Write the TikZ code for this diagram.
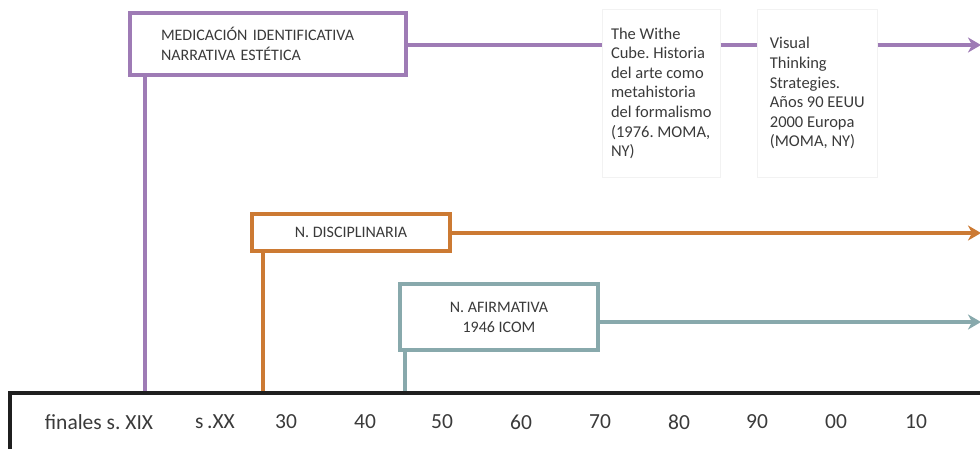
\documentclass[tikz,border=0pt]{standalone}
\usepackage{fontspec}
\setmainfont{Carlito}
\usetikzlibrary{arrows.meta}
\definecolor{lilac}{HTML}{9E7BB5}
\definecolor{rust}{HTML}{CC7A33}
\definecolor{slate}{HTML}{88A9AC}
\definecolor{ink}{HTML}{3A3A3A}
\frenchspacing
\tikzset{
  phasebox/.style={draw=#1, line width=4.5pt, fill=white, text=ink, font=\fontsize{16}{20}\selectfont},
  phaseline/.style={draw=#1, line width=4.5pt},
  phasearrow/.style={draw=#1, line width=4.5pt, -{Stealth[length=13pt,width=15pt,inset=4pt]}},
  notebox/.style={draw=black!5, line width=0.6pt, align=left, anchor=north west, text=ink,
    font=\fontsize{16.5}{19.6}\selectfont, inner xsep=7pt, inner ysep=5pt},
  yearlabel/.style={text=ink, font=\fontsize{21.5}{24}\selectfont},
}
\begin{document}
\begin{tikzpicture}[x=1pt,y=-1pt]
\useasboundingbox (0,0) rectangle (980,448);

% time axis
\draw[line width=3.5pt, draw=black!88] (10,460) -- (10,393) -- (995,393);
\foreach \xx/\lab [count=\i] in {99/finales s. XIX, 215/s\,.XX, 286/30, 365/40, 442/50, 521/60, 600/70, 679/80, 757/90, 836/00, 916/10}
  \node[yearlabel] (yr\i) at (\xx,422) {\lab};
\coordinate (tA) at (145,391);
\coordinate (tB) at (263,391);
\coordinate (tC) at (405,391);

% purple line
\node[phasebox=lilac, minimum width=276pt, minimum height=62pt, text width=214pt,
  align=left, inner xsep=31pt] (med) at (268,44) {MEDICACIÓN IDENTIFICATIVA\\NARRATIVA ESTÉTICA};
\node[notebox, minimum width=118pt, minimum height=168pt] (cube) at (602,9)
  {The Withe\\Cube. Historia\\del arte como\\metahistoria\\del formalismo\\(1976. MOMA,\\NY)};
\node[notebox, minimum width=120pt, minimum height=168pt] (vts) at (757,9)
  {Visual\\Thinking\\Strategies.\\Años 90 EEUU\\2000 Europa\\(MOMA, NY)};
\coordinate (endA) at (981,45);
\draw[phaseline=lilac] (med.south west -| tA) -- (tA);
\draw[phaseline=lilac] (med.east |- 0,45) -- (cube.west |- 0,45);
\draw[phaseline=lilac] (cube.east |- 0,45) -- (vts.west |- 0,45);
\draw[phasearrow=lilac] (vts.east |- 0,45) -- (endA);

% orange line
\node[phasebox=rust, minimum width=198pt, minimum height=37pt] (disc) at (351,232.5) {N. DISCIPLINARIA};
\coordinate (endB) at (981,233);
\draw[phaseline=rust] (disc.south west -| tB) -- (tB);
\draw[phasearrow=rust] (disc.east |- endB) -- (endB);

% teal line
\node[phasebox=slate, minimum width=198pt, minimum height=66pt, align=center] (afir) at (499,317) {N. AFIRMATIVA\\1946 ICOM};
\coordinate (endC) at (981,322);
\draw[phaseline=slate] (afir.south west -| tC) -- (tC);
\draw[phasearrow=slate] (afir.east |- endC) -- (endC);
\end{tikzpicture}
\end{document}
